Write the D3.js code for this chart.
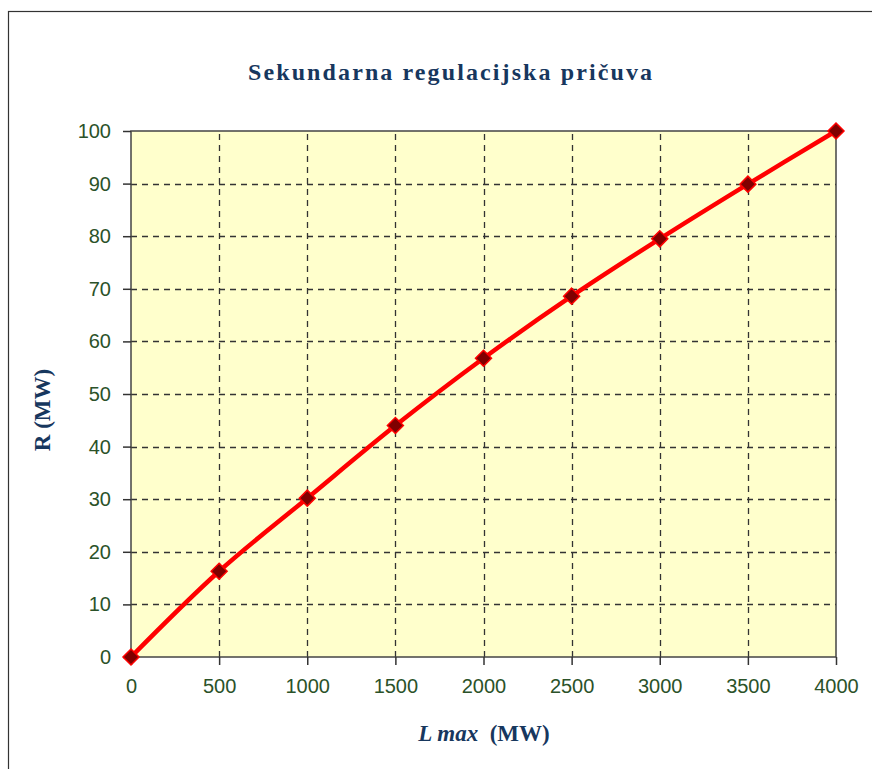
<!DOCTYPE html>
<html>
<head>
<meta charset="utf-8">
<script src="https://cdn.jsdelivr.net/npm/d3@7"></script>
<style>
  body { margin: 0; background: #fff; }
</style>
</head>
<body>
<div id="chart"></div>
<script>
var width = 872,
    height = 769;

// ******* data ******* //
var lmax = [0, 500, 1000, 1500, 2000, 2500, 3000, 3500, 4000];
var reserve = [0, 16.3, 30.2, 44, 56.8, 68.6, 79.5, 89.9, 100];
var xTicks = [0, 500, 1000, 1500, 2000, 2500, 3000, 3500, 4000];
var yTicks = [0, 10, 20, 30, 40, 50, 60, 70, 80, 90, 100];

var margin = {left: 131, right: 37, top: 131, bottom: 112};

var svg = d3.select("#chart")
    .append("svg")
    .attr("width", width)
    .attr("height", height);

// outer frame
svg.append("rect")
    .attr("x", 8.5).attr("y", 11.5)
    .attr("width", 900).attr("height", 800)
    .attr("fill", "none")
    .attr("stroke", "#333")
    .attr("stroke-width", 1.2);

var x = d3.scaleLinear().domain([0, 4000]).range([margin.left, width - margin.right + 1]);
var y = d3.scaleLinear().domain([0, 100]).range([height - margin.bottom, margin.top]);

// plot background
svg.append("rect")
    .attr("x", x(0)).attr("y", y(100))
    .attr("width", x(4000) - x(0))
    .attr("height", y(0) - y(100))
    .attr("fill", "#FFFFCC");

// ******* grid ******* //
var grid = svg.append("g").attr("class", "grid");
grid.selectAll("line.h")
    .data(yTicks.filter(function(d){ return d > 0 && d < 100; }))
    .enter().append("line")
    .attr("x1", x(0)).attr("x2", x(4000))
    .attr("y1", function(d){ return Math.round(y(d)) + 0.5; })
    .attr("y2", function(d){ return Math.round(y(d)) + 0.5; })
    .attr("stroke", "#333")
    .attr("stroke-width", 1.3)
    .attr("stroke-dasharray", "6,5");
grid.selectAll("line.v")
    .data(xTicks.filter(function(d){ return d > 0 && d < 4000; }))
    .enter().append("line")
    .attr("y1", y(0)).attr("y2", y(100))
    .attr("x1", function(d){ return Math.round(x(d)) + 0.5; })
    .attr("x2", function(d){ return Math.round(x(d)) + 0.5; })
    .attr("stroke", "#333")
    .attr("stroke-width", 1.3)
    .attr("stroke-dasharray", "6,5");

// plot border
svg.append("rect")
    .attr("x", x(0)).attr("y", y(100))
    .attr("width", x(4000) - x(0))
    .attr("height", y(0) - y(100))
    .attr("fill", "none")
    .attr("stroke", "#444")
    .attr("stroke-width", 1.5);

// ******* axes ******* //
var yAxis = d3.axisLeft(y).tickValues(yTicks).tickSize(8).tickPadding(12).tickFormat(d3.format("d"));
var xAxis = d3.axisBottom(x).tickValues(xTicks).tickSize(8).tickPadding(14).tickFormat(d3.format("d"));

var gy = svg.append("g")
    .attr("transform", "translate(" + x(0) + ",0)")
    .call(yAxis);
var gx = svg.append("g")
    .attr("transform", "translate(0," + y(0) + ")")
    .call(xAxis);

[gx, gy].forEach(function(g){
    g.select(".domain").remove();
    g.selectAll(".tick line").attr("stroke", "#333").attr("stroke-width", 1.5);
    g.selectAll(".tick text")
        .attr("fill", "#2B5229")
        .style("font-family", "'Liberation Sans', Arial, sans-serif")
        .style("font-size", "20px");
});

// ******* series ******* //
var pts = lmax.map(function(d, i){ return [x(d), y(reserve[i])]; });

var line = d3.line().curve(d3.curveCatmullRom.alpha(0.5));

svg.append("path")
    .attr("d", line(pts))
    .attr("fill", "none")
    .attr("stroke", "#FF0000")
    .attr("stroke-width", 4.5)
    .attr("stroke-linejoin", "round");

svg.append("g").selectAll("path")
    .data(pts)
    .enter().append("path")
    .attr("transform", function(d){ return "translate(" + d[0] + "," + d[1] + ")"; })
    .attr("d", "M0,-8L8,0L0,8L-8,0Z")
    .attr("fill", "#800000")
    .attr("stroke", "#FF0000")
    .attr("stroke-width", 1.5);

// ******* titles ******* //
svg.append("text")
    .attr("x", 450).attr("y", 80)
    .attr("text-anchor", "middle")
    .attr("fill", "#17375E")
    .style("font-family", "'Liberation Serif', 'Times New Roman', serif")
    .style("font-weight", "bold")
    .style("font-size", "24px")
    .attr("textLength", 404)
    .text("Sekundarna regulacijska pričuva");

svg.append("text")
    .attr("transform", "translate(50,410) rotate(-90)")
    .attr("text-anchor", "middle")
    .attr("fill", "#17375E")
    .style("font-family", "'Liberation Serif', 'Times New Roman', serif")
    .style("font-weight", "bold")
    .style("font-size", "23px")
    .text("R (MW)");

var xl = svg.append("text")
    .attr("x", 484).attr("y", 741)
    .attr("text-anchor", "middle")
    .attr("fill", "#17375E")
    .style("font-family", "'Liberation Serif', 'Times New Roman', serif")
    .style("font-weight", "bold")
    .style("font-size", "23px");
xl.append("tspan").style("font-style", "italic").text("L max");
xl.append("tspan").text("\u00a0 (MW)");
</script>
</body>
</html>
